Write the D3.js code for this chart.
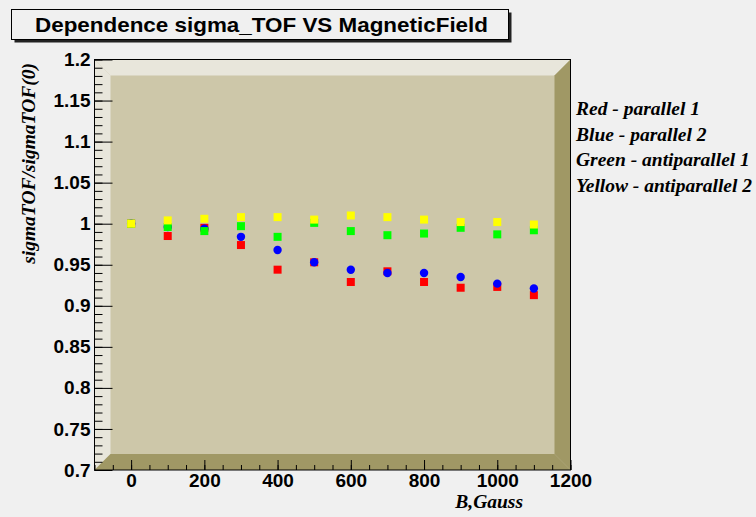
<!DOCTYPE html>
<html>
<head>
<meta charset="utf-8">
<script src="https://cdn.jsdelivr.net/npm/d3@7/dist/d3.min.js"></script>
<style>
  html, body { margin: 0; padding: 0; background: #f0f0f0; }
  svg { display: block; }
</style>
</head>
<body>
<svg id="chart" width="756" height="517"></svg>
<script>
// Magnetic field values (Gauss)
const fieldB = [0, 100, 200, 300, 400, 500, 600, 700, 800, 900, 1000, 1100];

// sigmaTOF normalised to its zero-field value, one array per configuration
const redParallel1 = [1.000, 0.985, 0.995, 0.974, 0.944, 0.953, 0.929, 0.942, 0.929, 0.922, 0.923, 0.913];
const blueParallel2 = [1.000, 0.996, 0.994, 0.984, 0.968, 0.953, 0.944, 0.940, 0.940, 0.935, 0.927, 0.921];
const greenAntiparallel1 = [1.000, 0.996, 0.991, 0.997, 0.984, 1.001, 0.991, 0.986, 0.988, 0.995, 0.987, 0.992];
const yellowAntiparallel2 = [1.000, 1.004, 1.006, 1.008, 1.008, 1.005, 1.010, 1.008, 1.005, 1.002, 1.002, 0.999];

const seriesNames = ["Red - parallel 1", "Blue - parallel 2", "Green - antiparallel 1", "Yellow - antiparallel 2"];
const seriesValues = [redParallel1, blueParallel2, greenAntiparallel1, yellowAntiparallel2];
const seriesColors = ["#ff0000", "#0000ff", "#00ff00", "#ffff00"];
const seriesShapes = ["square", "circle", "square", "square"];

const xMajorTicks = [0, 200, 400, 600, 800, 1000, 1200];
const yMajorTicks = [0.7, 0.75, 0.8, 0.85, 0.9, 0.95, 1, 1.05, 1.1, 1.15, 1.2];

const titleText = "Dependence sigma_TOF VS MagneticField";
const xTitle = "B,Gauss";
const yTitle = "sigmaTOF/sigmaTOF(0)";

const svg = d3.select("#chart");

const frame = { left: 94.5, right: 570.5, top: 59.5, bottom: 470 };
const bevel = 16;

const x = d3.scaleLinear().domain([-100, 1200]).range([frame.left, frame.right]);
const y = d3.scaleLinear().domain([0.7, 1.2]).range([frame.bottom, frame.top]);

// canvas background
svg.append("rect").attr("width", 756).attr("height", 517).attr("fill", "#f0f0f0");

// title box with drop shadow
const tb = { x: 11.5, y: 9.5, w: 497, h: 30 };
svg.append("rect").attr("x", tb.x + 3).attr("y", tb.y + 3).attr("width", tb.w).attr("height", tb.h)
  .attr("fill", "#222");
svg.append("rect").attr("x", tb.x).attr("y", tb.y).attr("width", tb.w).attr("height", tb.h)
  .attr("fill", "#f0f0f0").attr("stroke", "#000").attr("stroke-width", 1);
svg.append("text").attr("x", 261.5).attr("y", 31.5)
  .attr("text-anchor", "middle")
  .attr("font-family", "'Liberation Sans', Arial, sans-serif")
  .attr("font-weight", "bold").attr("font-size", 21)
  .attr("textLength", 453).attr("lengthAdjust", "spacingAndGlyphs")
  .text(titleText);

// 3D-style frame: back wall, lit left/top walls, shaded right/bottom walls
const L = frame.left, R = frame.right, T = frame.top, B = frame.bottom;
const g3d = svg.append("g");
g3d.append("rect").attr("x", L).attr("y", T).attr("width", R - L).attr("height", B - T).attr("fill", "#cdc7a9");
const poly = (pts, fill) => g3d.append("polygon").attr("points", pts.map(p => p.join(",")).join(" ")).attr("fill", fill);
poly([[L, T], [R, T], [R - bevel, T + bevel], [L + bevel, T + bevel]], "#e8e6db");
poly([[L, T], [L + bevel, T + bevel], [L + bevel, B - bevel], [L, B]], "#e8e6db");
poly([[R, T], [R, B], [R - bevel, B - bevel], [R - bevel, T + bevel]], "#a09865");
poly([[L, B], [L + bevel, B - bevel], [R - bevel, B - bevel], [R, B]], "#a09865");
g3d.append("rect").attr("x", L).attr("y", T).attr("width", R - L).attr("height", B - T)
  .attr("fill", "none").attr("stroke", "#000").attr("stroke-width", 1);

// axes
const tickFont = "'Liberation Sans', Arial, sans-serif";
const plain = d3.format("~g");

const yMinor = d3.range(70, 121).map(v => v / 100);
svg.append("g").attr("transform", `translate(${L},0)`)
  .call(d3.axisLeft(y).tickValues(yMinor).tickSizeInner(-8).tickSizeOuter(0).tickFormat(""))
  .call(g => g.select(".domain").remove());
svg.append("g").attr("transform", `translate(${L},0)`)
  .call(d3.axisLeft(y).tickValues(yMajorTicks).tickSizeInner(-18).tickSizeOuter(0).tickPadding(4)
    .tickFormat(d => plain(d)))
  .call(g => g.select(".domain").remove())
  .call(g => g.selectAll("text").attr("font-family", tickFont).attr("font-weight", "bold")
    .attr("font-size", 19).attr("fill", "#000"));

const xMinor = d3.range(-100, 1201, 50);
svg.append("g").attr("transform", `translate(0,${B})`)
  .call(d3.axisBottom(x).tickValues(xMinor).tickSizeInner(-5).tickSizeOuter(0).tickFormat(""))
  .call(g => g.select(".domain").remove());
svg.append("g").attr("transform", `translate(0,${B})`)
  .call(d3.axisBottom(x).tickValues(xMajorTicks).tickSizeInner(-10).tickSizeOuter(0).tickPadding(4)
    .tickFormat(d => String(d)))
  .call(g => g.select(".domain").remove())
  .call(g => g.selectAll("text").attr("font-family", tickFont).attr("font-weight", "bold")
    .attr("font-size", 19).attr("fill", "#000"));

// axis titles
const titleFont = "'Liberation Serif', 'Times New Roman', serif";
svg.append("text").attr("x", 523).attr("y", 508).attr("text-anchor", "end")
  .attr("font-family", titleFont).attr("font-style", "italic").attr("font-weight", "bold")
  .attr("font-size", 19.5).text(xTitle);
svg.append("text").attr("transform", "translate(35,63) rotate(-90)").attr("text-anchor", "end")
  .attr("font-family", titleFont).attr("font-style", "italic").attr("font-weight", "bold")
  .attr("font-size", 19.5).text(yTitle);

// data markers
const markers = svg.append("g");
seriesValues.forEach((vals, i) => {
  const pts = fieldB.map((b, j) => ({ b, v: vals[j] }));
  if (seriesShapes[i] === "circle") {
    markers.selectAll(null).data(pts).join("circle")
      .attr("cx", d => x(d.b)).attr("cy", d => y(d.v)).attr("r", 4.2)
      .attr("fill", seriesColors[i]);
  } else {
    markers.selectAll(null).data(pts).join("rect")
      .attr("x", d => x(d.b) - 4).attr("y", d => y(d.v) - 4)
      .attr("width", 8).attr("height", 8)
      .attr("fill", seriesColors[i]);
  }
});

// legend text
svg.append("g").selectAll("text").data(seriesNames).join("text")
  .attr("x", 576).attr("y", (d, i) => 115 + i * 25.5)
  .attr("font-family", titleFont).attr("font-style", "italic").attr("font-weight", "bold")
  .attr("font-size", 19.5).attr("fill", "#000")
  .text(d => d);
</script>
</body>
</html>
